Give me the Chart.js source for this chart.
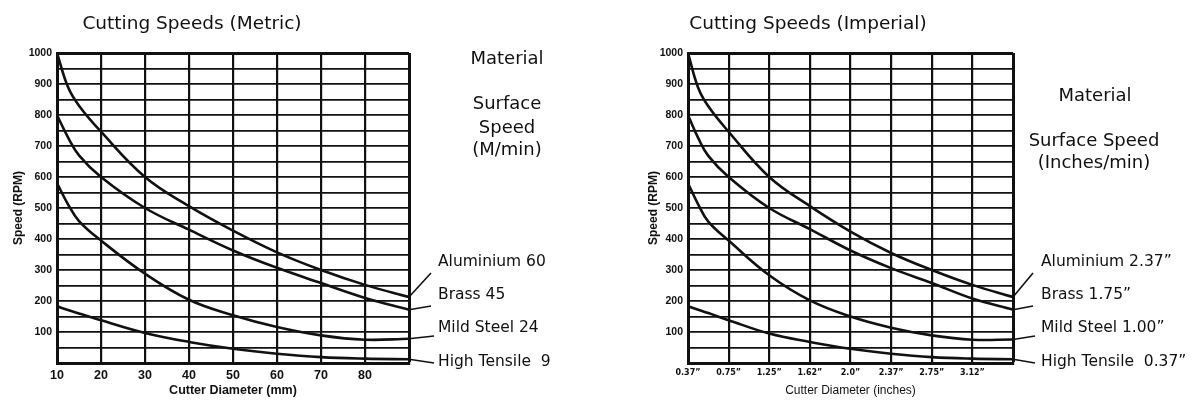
<!DOCTYPE html>
<html>
<head>
<meta charset="utf-8">
<script src="https://cdn.jsdelivr.net/npm/chart.js@4"></script>
<style>
  body { margin: 0; background: #fff; width: 1199px; height: 400px; overflow: hidden; position: relative; font-family: 'DejaVu Sans', Verdana, sans-serif; color: #111; }
  .box { position: absolute; top: 0; height: 400px; }
  .t { position: absolute; white-space: pre; line-height: 1; }
  .c { transform: translate(-50%, -50%); text-align: center; }
  .l { transform: translateY(-50%); }
  .title { font-size: 18.5px; }
  .mat { font-size: 18px; }
  .lab { font-size: 15.5px; }
</style>
</head>
<body>
<div class="box" style="left:0;width:600px"><canvas id="metricChart"></canvas></div>
<div class="box" style="left:600px;width:599px"><canvas id="imperialChart"></canvas></div>

<div class="t c title" style="left:192px;top:23px">Cutting Speeds (Metric)</div>
<div class="t c mat" style="left:507px;top:58px">Material</div>
<div class="t c mat" style="left:507px;top:103px">Surface</div>
<div class="t c mat" style="left:507px;top:127px">Speed</div>
<div class="t c mat" style="left:507px;top:149px">(M/min)</div>
<div id="metricLabels"></div>

<div class="t c title" style="left:808px;top:23px">Cutting Speeds (Imperial)</div>
<div class="t c mat" style="left:1095px;top:95px">Material</div>
<div class="t c mat" style="left:1094px;top:140px">Surface Speed</div>
<div class="t c mat" style="left:1094px;top:162px">(Inches/min)</div>
<div id="imperialLabels"></div>

<script>
/* ===== Cutting speed charts ===== */

// metric chart data (cutter diameter in mm)
const metricTicks = [10, 20, 30, 40, 50, 60, 70, 80, 90];
const metricDiameters = [10, 12.5, 15, 20, 30, 40, 50, 60, 70, 80, 90];
const metricAluminium = [1000, 890, 830, 746, 600, 506, 427, 357, 300, 252, 213];
const metricBrass = [800, 728, 670, 600, 500, 430, 363, 307, 258, 210, 172];
const metricMildSteel = [580, 512, 458, 395, 288, 204, 154, 116, 89, 75, 78];
const metricHighTensile = [183, 171, 160, 138, 97, 68, 46, 30, 19, 14, 12];
const metricNames = ['Aluminium 60', 'Brass 45', 'Mild Steel 24', 'High Tensile  9'];

// imperial chart data (evenly spaced diameter columns)
const imperialTicks = [0, 1, 2, 3, 4, 5, 6, 7, 8];
const imperialTickLabels = ['0.37\u201D', '0.75\u201D', '1.25\u201D', '1.62\u201D', '2.0\u201D', '2.37\u201D', '2.75\u201D', '3.12\u201D', ''];
const imperialPositions = [0, 0.25, 0.5, 1, 2, 3, 4, 5, 6, 7, 8];
const imperialAluminium = [1000, 888, 828, 746, 600, 506, 424, 355, 300, 252, 213];
const imperialBrass = [800, 726, 668, 600, 500, 432, 363, 306, 258, 208, 172];
const imperialMildSteel = [580, 512, 456, 395, 283, 202, 150, 114, 89, 75, 76];
const imperialHighTensile = [183, 172, 161, 138, 95, 68, 46, 30, 19, 14, 12];
const imperialNames = ['Aluminium 2.37\u201D', 'Brass 1.75\u201D', 'Mild Steel 1.00\u201D', 'High Tensile  0.37\u201D'];

const speedMax = 1000;
const speedStep = 50;

// label text rows and where the leaders end (page y)
const labelRows = [262, 295, 328, 362];
const leaderEnds = [273, 306, 336, 363];

const AXISFONT = "'Liberation Sans', Arial, sans-serif";

Chart.defaults.font.family = "'DejaVu Sans', sans-serif";
Chart.defaults.color = '#111';

const leaderPlugin = {
  id: 'leaders',
  afterDatasetsDraw(chart, args, opts) {
    const ctx = chart.ctx;
    ctx.save();
    ctx.strokeStyle = '#111';
    ctx.lineWidth = 1.6;
    chart.data.datasets.forEach((ds, i) => {
      const meta = chart.getDatasetMeta(i);
      const pt = meta.data[meta.data.length - 1];
      ctx.beginPath();
      ctx.moveTo(pt.x, pt.y);
      ctx.lineTo(pt.x + opts.dx[i], leaderEnds[i]);
      ctx.stroke();
    });
    ctx.restore();
  }
};

function makeSeries(xs, ys) {
  return xs.map((x, i) => ({ x: x, y: ys[i] }));
}

function lineDataset(xs, ys) {
  return {
    data: makeSeries(xs, ys),
    borderColor: '#111',
    borderWidth: 2.6,
    pointRadius: 0,
    fill: false,
    tension: 0.4
  };
}

function renderChart(id, cfg) {
  const ctx = document.getElementById(id).getContext('2d');
  const xMax = cfg.ticks[cfg.ticks.length - 1];
  return new Chart(ctx, {
    type: 'line',
    data: {
      datasets: cfg.series.map(ys => lineDataset(cfg.xs, ys))
    },
    options: {
      responsive: true,
      maintainAspectRatio: false,
      animation: false,
      layout: { padding: { left: 0, top: 53, right: cfg.padRight, bottom: 0 } },
      plugins: {
        legend: { display: false },
        tooltip: { enabled: false },
        leaders: { dx: cfg.leaderDx }
      },
      scales: {
        x: {
          type: 'linear',
          min: cfg.ticks[0],
          max: xMax,
          afterFit: s => { s.height = 37; },
          afterBuildTicks: s => { s.ticks = cfg.ticks.map(v => ({ value: v })); },
          ticks: {
            autoSkip: false,
            maxRotation: 0,
            padding: 5,
            font: cfg.xTickFont,
            callback: cfg.xLabel
          },
          grid: {
            color: '#111',
            drawTicks: false,
            lineWidth: c => (c.tick && c.tick.value === xMax ? 3 : 2.2)
          },
          border: { color: '#111', width: 3 },
          title: {
            display: true,
            text: cfg.xTitle,
            font: cfg.xTitleFont,
            padding: { top: 0, bottom: 2 }
          }
        },
        y: {
          min: 0,
          max: speedMax,
          afterFit: s => { s.width = cfg.yWidth; },
          ticks: {
            stepSize: speedStep,
            autoSkip: false,
            padding: 5,
            font: { family: AXISFONT, weight: 'bold', size: 10.5 },
            callback: v => (v % 100 === 0 && v > 0 ? v : '')
          },
          grid: {
            color: '#111',
            drawTicks: false,
            lineWidth: c => (c.tick && c.tick.value === speedMax ? 3 : 1.8)
          },
          border: { color: '#111', width: 3 },
          title: {
            display: true,
            text: 'Speed (RPM)',
            font: { family: AXISFONT, weight: 'bold', size: 12 },
            padding: { top: cfg.yTitlePad, bottom: 0 }
          }
        }
      }
    },
    plugins: [leaderPlugin]
  });
}

function placeLabels(id, names, left) {
  let html = '';
  names.forEach((n, i) => {
    html += `<div class="t l lab" style="left:${left}px;top:${labelRows[i]}px">${n}</div>`;
  });
  document.getElementById(id).innerHTML = html;
}

document.addEventListener('DOMContentLoaded', () => {
  renderChart('metricChart', {
    xs: metricDiameters,
    ticks: metricTicks,
    series: [metricAluminium, metricBrass, metricMildSteel, metricHighTensile],
    padRight: 191,
    yWidth: 57,
    yTitlePad: 11,
    leaderDx: [22, 22, 25, 25],
    xTickFont: { family: AXISFONT, weight: 'bold', size: 12.5 },
    xLabel: v => (v < 90 ? v : ''),
    xTitle: 'Cutter Diameter (mm)',
    xTitleFont: { family: AXISFONT, weight: 'bold', size: 12.5 }
  });

  renderChart('imperialChart', {
    xs: imperialPositions,
    ticks: imperialTicks,
    series: [imperialAluminium, imperialBrass, imperialMildSteel, imperialHighTensile],
    padRight: 186,
    yWidth: 88,
    yTitlePad: 46,
    leaderDx: [20, 20, 22, 22],
    xTickFont: { family: "'DejaVu Sans', sans-serif", weight: 'bold', size: 8 },
    xLabel: v => imperialTickLabels[v],
    xTitle: 'Cutter Diameter (inches)',
    xTitleFont: { family: AXISFONT, size: 12 }
  });

  placeLabels('metricLabels', metricNames, 438);
  placeLabels('imperialLabels', imperialNames, 1041);
});
</script>
</body>
</html>
